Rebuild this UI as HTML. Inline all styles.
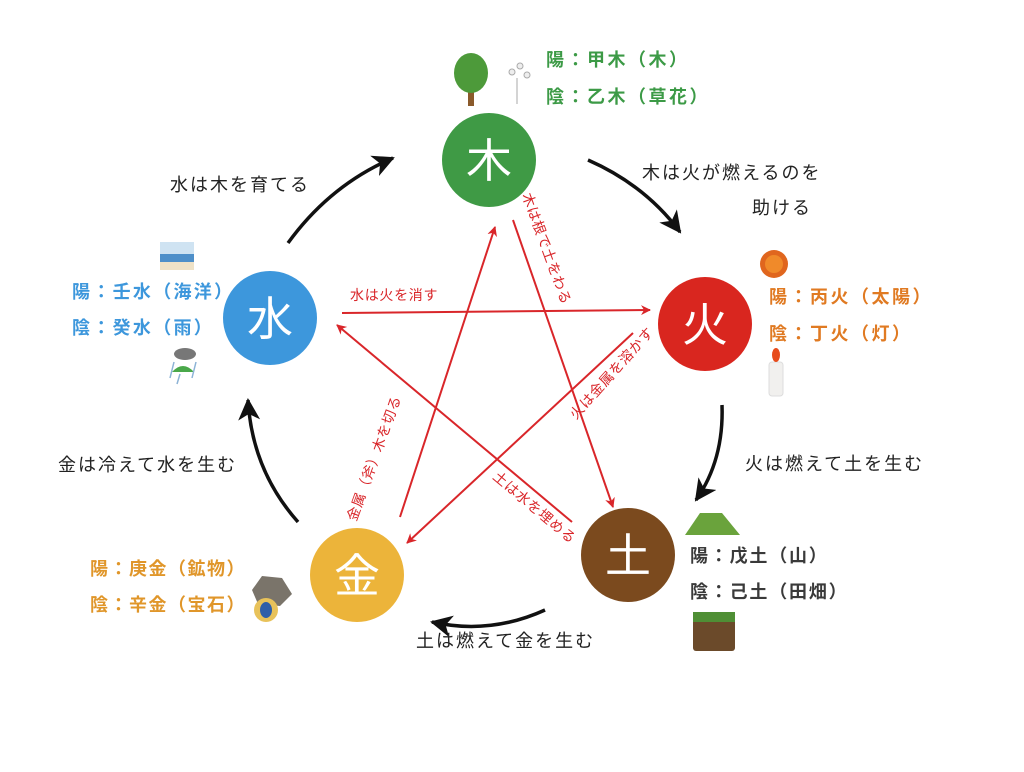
<!DOCTYPE html>
<html><head><meta charset="utf-8"><style>
body{margin:0;background:#fff;}
svg{display:block;font-family:"Liberation Sans","Noto Sans CJK JP",sans-serif;}
</style></head><body>
<svg width="1024" height="772" viewBox="0 0 1024 772" xmlns="http://www.w3.org/2000/svg">
<defs>
<marker id="ar" markerWidth="10" markerHeight="10" refX="9" refY="5" orient="auto" markerUnits="userSpaceOnUse"><path d="M0,0 L10,5 L0,10 L3,5 Z" fill="#d9262a"/></marker>
<marker id="ab" markerWidth="22" markerHeight="22" refX="20" refY="11" orient="auto" markerUnits="userSpaceOnUse"><path d="M0,0 L22,11 L0,22 L6,11 Z" fill="#111"/></marker>
</defs>
<rect width="1024" height="772" fill="#fff"/>
<g fill="none" stroke="#111" stroke-width="3.5">
<path d="M288,243 Q330,185 393,158" marker-end="url(#ab)"/>
<path d="M588,160 Q645,185 680,232" marker-end="url(#ab)"/>
<path d="M722,405 Q724,460 696,500" marker-end="url(#ab)"/>
<path d="M545,610 Q490,635 432,622" marker-end="url(#ab)"/>
<path d="M298,522 Q252,470 248,400" marker-end="url(#ab)"/>
</g>
<g stroke="#d9262a" stroke-width="2" fill="none">
<line x1="342" y1="313" x2="650" y2="310" marker-end="url(#ar)"/>
<line x1="400" y1="517" x2="495" y2="227" marker-end="url(#ar)"/>
<line x1="513" y1="220" x2="613" y2="507" marker-end="url(#ar)"/>
<line x1="633" y1="333" x2="407" y2="543" marker-end="url(#ar)"/>
<line x1="572" y1="522" x2="337" y2="325" marker-end="url(#ar)"/>
</g>
<g fill="#d9262a" font-size="14" letter-spacing="0.7">
<text x="350" y="300">水は火を消す</text>
<text transform="translate(522,195) rotate(70)">木は根で土をわる</text>
<text transform="translate(576,420) rotate(-48)">火は金属を溶かす</text>
<text transform="translate(492,478) rotate(40)">土は水を埋める</text>
<text transform="translate(356,522) rotate(-70)">金属（斧）木を切る</text>
</g>
<circle cx="489" cy="160" r="47" fill="#3f9a45"/>
<circle cx="705" cy="324" r="47" fill="#d9261f"/>
<circle cx="628" cy="555" r="47" fill="#7b4a1e"/>
<circle cx="357" cy="575" r="47" fill="#ecb43a"/>
<circle cx="270" cy="318" r="47" fill="#3d97dc"/>
<g fill="#fff" font-size="46" text-anchor="middle">
<text x="489" y="177">木</text>
<text x="705" y="341">火</text>
<text x="628" y="572">土</text>
<text x="357" y="592">金</text>
<text x="270" y="335">水</text>
</g>
<g fill="#222" font-size="18" letter-spacing="2">
<text x="170" y="191">水は木を育てる</text>
<text x="642" y="179">木は火が燃えるのを</text>
<text x="752" y="214">助ける</text>
<text x="745" y="470">火は燃えて土を生む</text>
<text x="416" y="647">土は燃えて金を生む</text>
<text x="58" y="471">金は冷えて水を生む</text>
</g>
<g font-size="18" font-weight="bold">
<g fill="#3c9a46" letter-spacing="2.5"><text x="546" y="66">陽：甲木（木）</text><text x="546" y="103">陰：乙木（草花）</text></g>
<g fill="#e07a22" letter-spacing="2.5"><text x="769" y="303">陽：丙火（太陽）</text><text x="769" y="340">陰：丁火（灯）</text></g>
<g fill="#3a3a3a" letter-spacing="1.8"><text x="690" y="562">陽：戊土（山）</text><text x="690" y="598">陰：己土（田畑）</text></g>
<g fill="#e0962a" letter-spacing="1.5"><text x="90" y="575">陽：庚金（鉱物）</text><text x="90" y="611">陰：辛金（宝石）</text></g>
<g fill="#3d97dc" letter-spacing="2.3"><text x="72" y="298">陽：壬水（海洋）</text><text x="72" y="334">陰：癸水（雨）</text></g>
</g>
<rect x="468" y="80" width="6" height="26" fill="#8a5a2b"/>
<ellipse cx="471" cy="73" rx="17" ry="20" fill="#4d9a3a"/>
<g stroke="#aaa" fill="#eee"><circle cx="512" cy="72" r="3"/><circle cx="520" cy="66" r="3"/><circle cx="527" cy="75" r="3"/><line x1="517" y1="78" x2="517" y2="104"/></g>
<circle cx="774" cy="264" r="14" fill="#e0661e"/><circle cx="774" cy="264" r="9" fill="#f08a2a"/>
<rect x="769" y="362" width="14" height="34" rx="3" fill="#f1f0ee" stroke="#ddd"/>
<ellipse cx="776" cy="355" rx="4" ry="7" fill="#e74c1c"/>
<path d="M685,535 L700,513 L722,513 L740,535 Z" fill="#6aa33c"/>
<rect x="693" y="615" width="42" height="36" rx="3" fill="#6b4a2a"/><rect x="693" y="612" width="42" height="10" fill="#4f8f35"/>
<path d="M252,590 L262,576 L282,578 L292,594 L280,606 L258,604 Z" fill="#7a746a"/>
<circle cx="266" cy="610" r="12" fill="#e8c25a"/><ellipse cx="266" cy="610" rx="6" ry="8" fill="#2f5fa8"/>
<rect x="160" y="242" width="34" height="12" fill="#cfe3f2"/><rect x="160" y="254" width="34" height="8" fill="#4e8fc9"/><rect x="160" y="262" width="34" height="8" fill="#efe2c7"/>
<ellipse cx="185" cy="354" rx="11" ry="6" fill="#777"/>
<path d="M172,372 Q183,360 194,372 Z" fill="#4aa84a"/>
<g stroke="#8cb3d6" stroke-width="1.5"><line x1="174" y1="362" x2="170" y2="378"/><line x1="196" y1="362" x2="192" y2="378"/><line x1="180" y1="374" x2="177" y2="384"/></g>
</svg>
</body></html>
